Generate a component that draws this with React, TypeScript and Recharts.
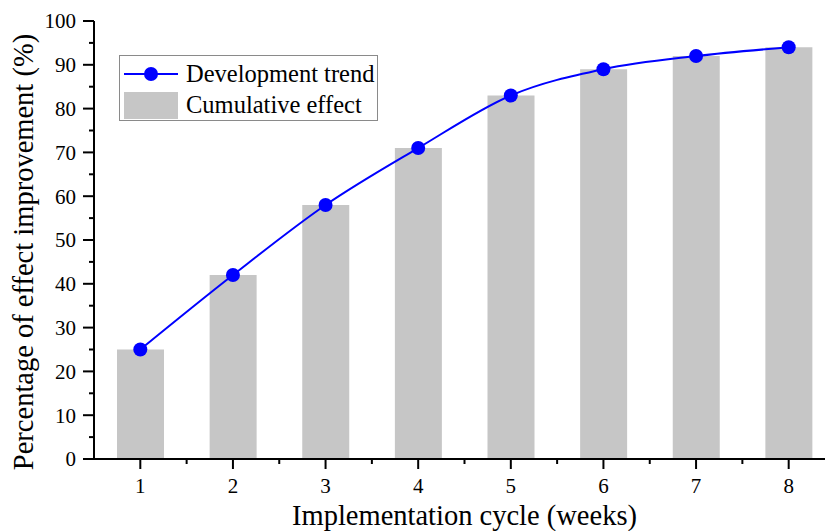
import React from 'react';
import { ComposedChart, Bar, Line, XAxis, YAxis } from 'recharts';

const weeks = [1, 2, 3, 4, 5, 6, 7, 8];
const cumulativeEffect = [25, 42, 58, 71, 83, 89, 92, 94];
const developmentTrend = [25, 42, 58, 71, 83, 89, 92, 94];
const xTicks = [1, 1.5, 2, 2.5, 3, 3.5, 4, 4.5, 5, 5.5, 6, 6.5, 7, 7.5, 8, 8.5];
const yTicks = [0, 5, 10, 15, 20, 25, 30, 35, 40, 45, 50, 55, 60, 65, 70, 75, 80, 85, 90, 95, 100];

const data = weeks.map((w, i) => ({
  week: w,
  cumulative: cumulativeEffect[i],
  trend: developmentTrend[i],
}));

const FONT = '"Liberation Serif", "Times New Roman", serif';

const XTick = (props: any) => {
  const { x, y, payload } = props;
  const major = Number.isInteger(payload.value);
  return (
    <g>
      <line x1={x} y1={y} x2={x} y2={y + (major ? 10 : 5)} stroke="#000" strokeWidth={2} />
      {major && (
        <text x={x} y={y + 34} textAnchor="middle" fontFamily={FONT} fontSize={21} fill="#000">
          {payload.value}
        </text>
      )}
    </g>
  );
};

const YTick = (props: any) => {
  const { x, y, payload } = props;
  const major = payload.value % 10 === 0;
  return (
    <g>
      <line x1={x} y1={y} x2={x - (major ? 11 : 5)} y2={y} stroke="#000" strokeWidth={2} />
      {major && (
        <text x={x - 18} y={y} dy="0.35em" textAnchor="end" fontFamily={FONT} fontSize={21} fill="#000">
          {payload.value}
        </text>
      )}
    </g>
  );
};

const LegendBox = () => (
  <div
    style={{
      position: 'absolute',
      left: 119,
      top: 55,
      border: '1px solid #8a8a8a',
      background: '#fff',
      width: 257,
      height: 64,
      fontFamily: FONT,
      fontSize: 24.5,
      color: '#000',
      lineHeight: 1,
    }}
  >
    <div style={{ display: 'flex', alignItems: 'center', height: 36 }}>
      <svg width={62} height={20} style={{ marginLeft: 4 }}>
        <line x1={0} y1={10} x2={54} y2={10} stroke="#0000ff" strokeWidth={2} />
        <circle cx={27} cy={10} r={7} fill="#0000ff" />
      </svg>
      <span>Development trend</span>
    </div>
    <div style={{ display: 'flex', alignItems: 'center', height: 26 }}>
      <div style={{ width: 54, height: 27, background: '#c6c6c6', marginLeft: 4, marginRight: 8 }} />
      <span>Cumulative effect</span>
    </div>
  </div>
);

export default function App() {
  return (
    <div style={{ position: 'absolute', left: 0, top: 0, width: 825, height: 531, overflow: 'hidden', background: '#fff' }}>
      <ComposedChart width={845} height={531} data={data} margin={{ top: 21, right: 10, bottom: 0, left: 0 }}>
        <XAxis
          dataKey="week"
          type="number"
          domain={[0.5, 8.5]}
          ticks={xTicks}
          interval={0}
          allowDataOverflow
          height={72}
          tickSize={0}
          tickMargin={0}
          tickLine={false}
          axisLine={{ stroke: '#000', strokeWidth: 2 }}
          tick={<XTick />}
          label={{
            content: (p: any) => {
              const vb = p.viewBox;
              return (
                <text x={vb.x + vb.width / 2} y={vb.y + 66} textAnchor="middle" fontFamily={FONT} fontSize={28.5} fill="#000">
                  Implementation cycle (weeks)
                </text>
              );
            },
          }}
        />
        <YAxis
          type="number"
          domain={[0, 100]}
          ticks={yTicks}
          interval={0}
          width={94}
          tickSize={0}
          tickMargin={0}
          tickLine={false}
          axisLine={{ stroke: '#000', strokeWidth: 2 }}
          tick={<YTick />}
          label={{
            content: (p: any) => {
              const vb = p.viewBox;
              const cx = vb.x + 33;
              const cy = vb.y + vb.height / 2 + 12;
              return (
                <text
                  x={cx}
                  y={cy}
                  transform={`rotate(-90 ${cx} ${cy})`}
                  textAnchor="middle"
                  fontFamily={FONT}
                  fontSize={28.5}
                  fill="#000"
                >
                  Percentage of effect improvement (%)
                </text>
              );
            },
          }}
        />
        <Bar dataKey="cumulative" name="Cumulative effect" fill="#c6c6c6" barSize={47} isAnimationActive={false} />
        <Line
          dataKey="trend"
          name="Development trend"
          type="monotone"
          stroke="#0000ff"
          strokeWidth={2}
          dot={{ r: 7, fill: '#0000ff', stroke: '#0000ff', strokeWidth: 0 }}
          activeDot={false}
          isAnimationActive={false}
        />
      </ComposedChart>
      <LegendBox />
    </div>
  );
}
